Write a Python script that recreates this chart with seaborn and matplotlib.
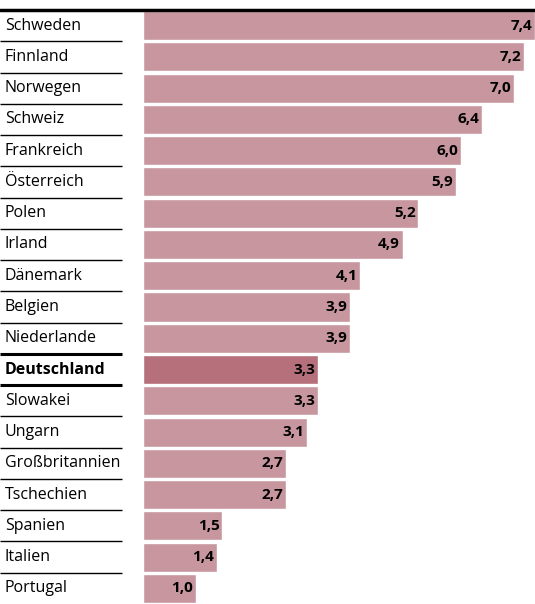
import matplotlib
matplotlib.use("Agg")
import matplotlib.pyplot as plt
import matplotlib.transforms as mtransforms
import pandas as pd
import seaborn as sns

countries = ["Schweden", "Finnland", "Norwegen", "Schweiz", "Frankreich",
             "Österreich", "Polen", "Irland", "Dänemark", "Belgien",
             "Niederlande", "Deutschland", "Slowakei", "Ungarn",
             "Großbritannien", "Tschechien", "Spanien", "Italien", "Portugal"]
values = [7.4, 7.2, 7.0, 6.4, 6.0, 5.9, 5.2, 4.9, 4.1, 3.9,
          3.9, 3.3, 3.3, 3.1, 2.7, 2.7, 1.5, 1.4, 1.0]
highlight = "Deutschland"

bar_color = "#c8969e"
hi_color = "#b5707c"

df = pd.DataFrame({"land": countries, "wert": values})
df["grp"] = ["hi" if c == highlight else "normal" for c in countries]

sns.set_style("white")
plt.rcParams["font.family"] = ["Open Sans", "DejaVu Sans"]

W, H = 535, 604
fig = plt.figure(figsize=(W / 100, H / 100), dpi=100)
left = 143 / W
top = 1 - 10 / H
ax = fig.add_axes([left, 0, 1 - left, top])

sns.barplot(data=df, y="land", x="wert", hue="grp", orient="h",
            palette={"normal": bar_color, "hi": hi_color},
            width=0.93, dodge=False, legend=False, ax=ax, saturation=1)

ax.set_xlim(0, 7.4)
ax.set_ylim(len(countries) - 0.5, -0.5)
ax.set_axis_off()

# value labels
for i, v in enumerate(values):
    ax.annotate(f"{v:.1f}".replace(".", ","), xy=(v, i), xytext=(-2, 0),
                textcoords="offset points", ha="right", va="center",
                fontsize=11, fontweight="bold", color="black")

# country labels and separators on the left
trans = mtransforms.blended_transform_factory(fig.transFigure, ax.transData)
for i, c in enumerate(countries):
    bold = c == highlight
    ax.text(5 / W, i, c, transform=trans, ha="left", va="center",
            fontsize=11.5, fontweight="bold" if bold else "normal", color="black")
for k in range(len(countries) - 1):
    thick = countries[k] == highlight or countries[k + 1] == highlight
    ax.plot([0, 122 / W], [k + 0.5, k + 0.5], transform=trans, color="black",
            lw=2.2 if thick else 1.0, clip_on=False, solid_capstyle="butt")

# top rule
fig.add_artist(plt.Line2D([0, 1], [top, top], transform=fig.transFigure,
                          color="black", lw=2.5))

fig.savefig("out.png", dpi=100)
